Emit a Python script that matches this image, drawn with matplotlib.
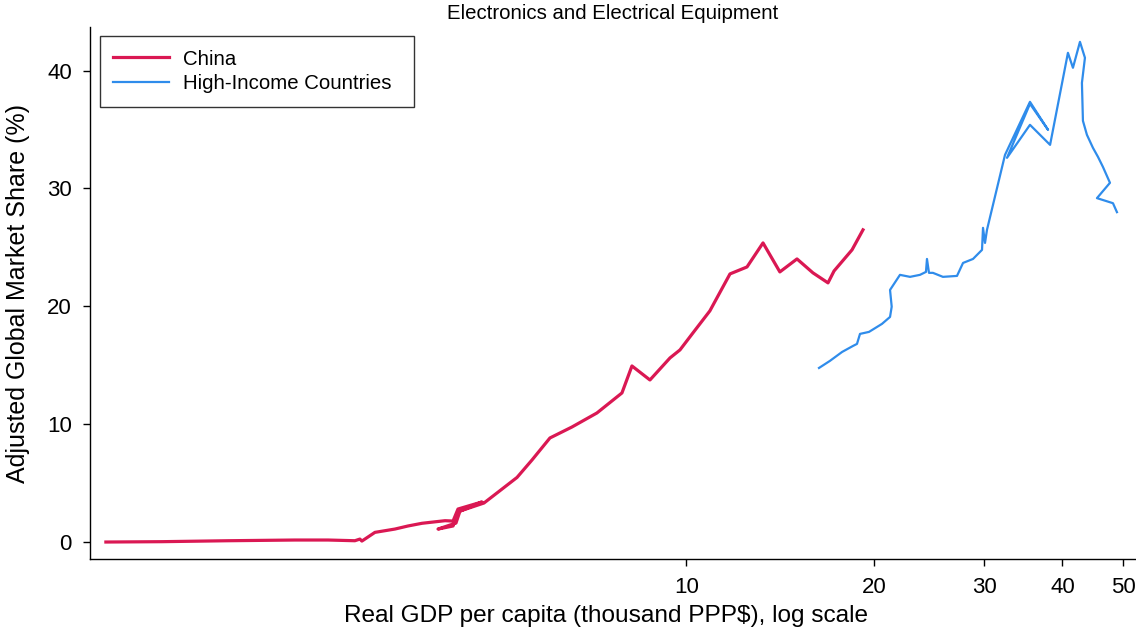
import matplotlib
matplotlib.use("Agg")
from matplotlib import pyplot as plt
from matplotlib.ticker import FixedLocator, NullLocator, FixedFormatter

plt.rcParams['font.family'] = ['Liberation Sans', 'DejaVu Sans']

# China: real GDP per capita (thousand PPP$) and adjusted global market share (%)
china_gdp = [1.176, 1.446, 1.844, 2.361, 2.667, 2.945, 3.000, 3.022, 3.171, 3.413,
             3.581, 3.772, 4.106, 4.229, 4.307, 4.705, 4.307, 4.229, 4.001, 4.275,
             4.339, 4.740, 4.972, 5.354, 5.658, 6.045, 6.556, 7.188, 7.883, 8.179,
             8.740, 9.410, 9.763, 10.24, 10.90, 11.74, 12.50, 13.26, 14.11, 15.03,
             15.94, 16.85, 17.23, 18.41, 19.17]
china_share = [0.0, 0.03, 0.11, 0.17, 0.17, 0.11, 0.25, 0.08, 0.82, 1.10,
               1.36, 1.59, 1.81, 1.78, 2.80, 3.40, 2.55, 1.36, 1.10, 1.61,
               2.63, 3.31, 4.16, 5.48, 6.96, 8.83, 9.76, 10.95, 12.65, 14.94,
               13.75, 15.62, 16.30, 17.74, 19.61, 22.75, 23.34, 25.38, 22.92, 24.02,
               22.84, 21.99, 23.00, 24.79, 26.49]

# High-income countries
hic_gdp = [16.30, 16.97, 17.75, 18.48, 18.75, 18.96, 19.60, 20.56, 21.18, 21.31,
           21.18, 21.97, 22.80, 23.65, 24.18, 24.27, 24.45, 24.81, 25.74, 27.11,
           27.72, 28.76, 29.73, 29.84, 30.06, 30.28, 32.36, 35.48, 37.93, 35.48,
           32.60, 35.48, 38.21, 40.81, 41.57, 42.66, 43.45, 42.97, 43.13, 43.77,
           44.75, 45.59, 46.43, 47.65, 45.42, 48.18, 48.89]
hic_share = [14.77, 15.37, 16.13, 16.64, 16.81, 17.66, 17.83, 18.51, 19.10, 19.97,
             21.39, 22.67, 22.50, 22.67, 22.92, 24.02, 22.84, 22.84, 22.50, 22.58,
             23.68, 24.02, 24.79, 26.66, 25.38, 26.49, 32.85, 37.35, 34.97, 37.18,
             32.60, 35.40, 33.70, 41.51, 40.24, 42.44, 41.09, 38.96, 35.74, 34.55,
             33.45, 32.68, 31.83, 30.48, 29.18, 28.75, 27.99]

x_ticks = [10, 20, 30, 40, 50]
y_ticks = [0, 10, 20, 30, 40]

fig = plt.figure(figsize=(11.36, 6.34), dpi=100)
ax = fig.add_axes([0.0792, 0.1183, 0.9208, 0.8391])

ax.plot(china_gdp, china_share, color='#DA1853', lw=2.3, label='China')
ax.plot(hic_gdp, hic_share, color='#2F8CEB', lw=1.6, label='High-Income Countries')

ax.set_xscale('log')
ax.set_xlim(1.109, 52.45)
ax.set_ylim(-1.44, 43.7)
ax.xaxis.set_major_locator(FixedLocator(x_ticks))
ax.xaxis.set_major_formatter(FixedFormatter([str(t) for t in x_ticks]))
ax.xaxis.set_minor_locator(NullLocator())
ax.set_yticks(y_ticks)

for s in ('top', 'right'):
    ax.spines[s].set_visible(False)
for s in ('left', 'bottom'):
    ax.spines[s].set_linewidth(1.0)
ax.tick_params(axis='both', direction='out', length=5, width=1, labelsize=16, pad=8)

ax.set_xlabel('Real GDP per capita (thousand PPP$), log scale', fontsize=17.6)
ax.xaxis.set_label_coords(0.493, -0.087)
ax.set_ylabel('Adjusted Global Market Share (%)', fontsize=18, labelpad=12)
ax.set_title('Electronics and Electrical Equipment', fontsize=14.7, pad=6)

# legend box stretched to a fixed width, like the original layout
leg = ax.legend(loc='upper left', bbox_to_anchor=(0.0096, 0.5, 0.3002, 0.483),
                mode='expand', borderaxespad=0, fontsize=14.7, frameon=True,
                fancybox=False, edgecolor='black', handlelength=2.7,
                handletextpad=0.7, borderpad=0.66, labelspacing=0.27)
leg.get_frame().set_linewidth(1.0)

fig.savefig('out.png', dpi=100)
